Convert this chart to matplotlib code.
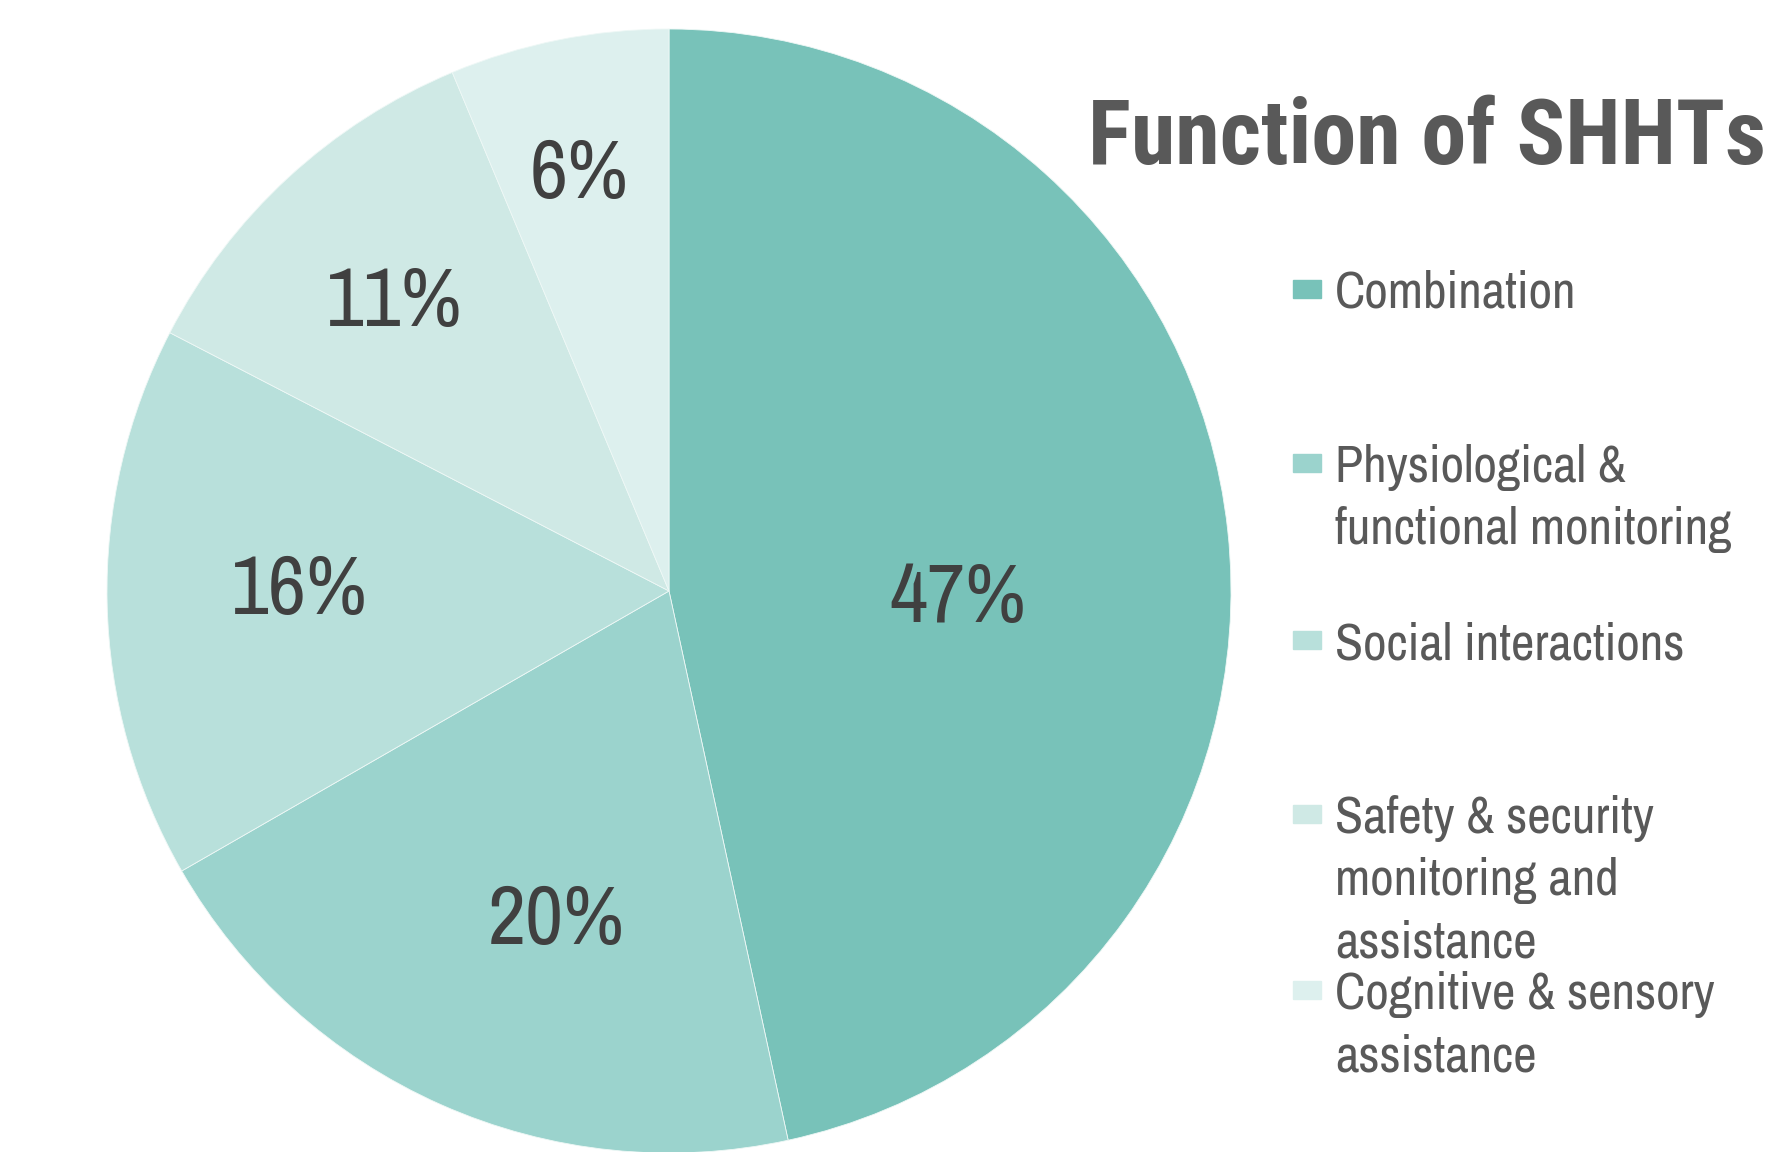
import matplotlib
matplotlib.use('Agg')
import matplotlib.pyplot as plt
from matplotlib.patches import Rectangle
import numpy as np

categories = ['Combination', 'Physiological &\nfunctional monitoring', 'Social interactions',
              'Safety & security\nmonitoring and\nassistance', 'Cognitive & sensory\nassistance']
shares = [46.6, 20.1, 15.9, 11.1, 6.3]
colors = ['#78c2b9', '#9bd3cd', '#b8e0db', '#cfe9e5', '#ddf0ee']
label_r = [0.514, 0.621, 0.658, 0.709, 0.757]  # radial spot of each % label
label_shift = [-7.7, 5.0, -1.3, 1.0, 0.9]  # degrees off the wedge middle
legend_y = [289, 463, 640, 814, 990]  # first-line centre of each legend entry (px from top)

W, H = 1772, 1152
fam = ['Liberation Sans Narrow', 'Archivo Narrow', 'DejaVu Sans']
bold_fam = ['Liberation Sans Narrow', 'Roboto Condensed', 'Asap Condensed', 'DejaVu Sans']
fig = plt.figure(figsize=(W / 100, H / 100), dpi=100)

cx, cy, r = 669, 591, 562
ax = fig.add_axes([(cx - r) / W, (H - cy - r) / H, 2 * r / W, 2 * r / H])
wedges, _ = ax.pie(shares, colors=colors, startangle=90, counterclock=False, radius=1,
                   wedgeprops=dict(edgecolor='#eef8f6', linewidth=0.6))
ax.set_xlim(-1, 1)
ax.set_ylim(-1, 1)
ax.set_aspect('equal')
ax.axis('off')

for w, s, lr, sh in zip(wedges, shares, label_r, label_shift):
    mid = np.deg2rad((w.theta1 + w.theta2) / 2 + sh)
    ax.text(lr * np.cos(mid), lr * np.sin(mid), f'{round(s)}%', ha='center', va='center',
            fontsize=60, color='#404040', family=fam)

fig.text(1088 / W, 1 - 164 / H, 'Function of SHHTs', ha='left', va='baseline',
         fontsize=65, fontweight='bold', color='#595959', family=bold_fam)

for cat, col, y in zip(categories, colors, legend_y):
    fig.patches.append(Rectangle((1293 / W, 1 - (y + 9) / H), 28 / W, 18 / H,
                                 transform=fig.transFigure, color=col))
    for k, line in enumerate(cat.split('\n')):
        fig.text(1335 / W, 1 - (y + 19 + 62 * k) / H, line, ha='left', va='baseline',
                 fontsize=37, color='#595959', family=fam)

fig.savefig('out.png', dpi=100, facecolor='white')
